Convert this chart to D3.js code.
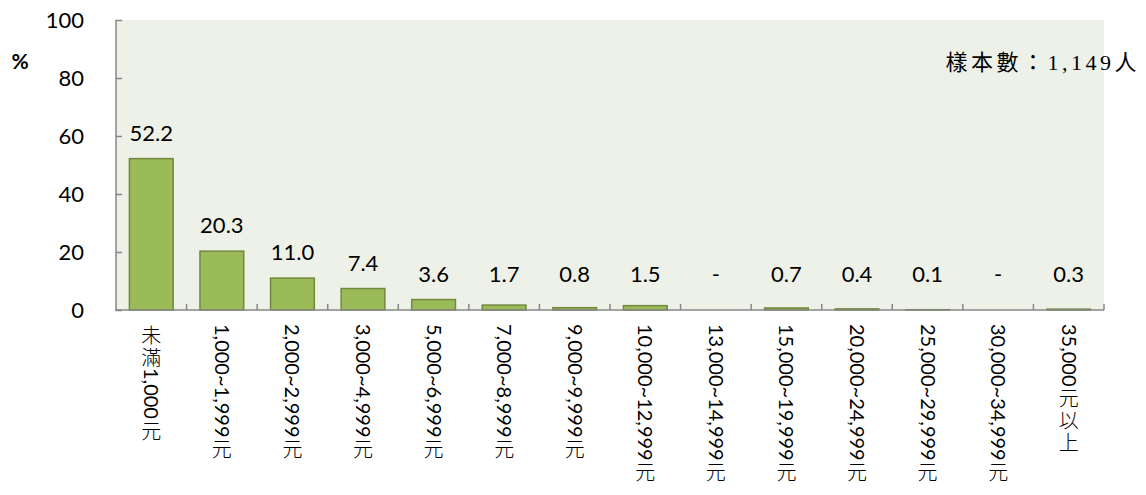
<!DOCTYPE html>
<html>
<head>
<meta charset="utf-8">
<script src="https://cdn.jsdelivr.net/npm/d3@7"></script>
<style>
  body { margin: 0; background: #fff; }
  svg { display: block; }
  text { font-family: Lato, "Noto Sans CJK TC", sans-serif; fill: #000; }
</style>
</head>
<body>
<div class="main"></div>
<script>
const categories = [
  "未滿1,000元", "1,000~1,999元", "2,000~2,999元", "3,000~4,999元",
  "5,000~6,999元", "7,000~8,999元", "9,000~9,999元", "10,000~12,999元",
  "13,000~14,999元", "15,000~19,999元", "20,000~24,999元", "25,000~29,999元",
  "30,000~34,999元", "35,000元以上"
];
const values = [52.2, 20.3, 11.0, 7.4, 3.6, 1.7, 0.8, 1.5, null, 0.7, 0.4, 0.1, null, 0.3];
const yTicks = [0, 20, 40, 60, 80, 100];
const sampleNote = "樣本數：1,149人";

let fullwidth = 1146;
let fullheight = 495;
let plot = { left: 116, right: 1104, top: 20, bottom: 310 };

const svg = d3
  .select(".main")
  .append("svg")
  .attr("width", fullwidth)
  .attr("height", fullheight);

const x = d3.scaleBand().domain(categories).range([plot.left, plot.right]).padding(0);
const y = d3.scaleLinear().domain([0, 100]).range([plot.bottom, plot.top]);
const barW = x.bandwidth() * 0.62;

// plot background
svg.append("rect")
  .attr("x", plot.left)
  .attr("y", plot.top)
  .attr("width", plot.right - plot.left)
  .attr("height", plot.bottom - plot.top)
  .attr("fill", "#eef1e8");

// bars
svg.append("g")
  .selectAll("rect")
  .data(values.map((v, i) => ({ c: categories[i], v: v })).filter((d) => d.v))
  .join("rect")
  .attr("x", (d) => x(d.c) + (x.bandwidth() - barW) / 2)
  .attr("y", (d) => y(d.v))
  .attr("width", barW)
  .attr("height", (d) => y(0) - y(d.v))
  .attr("fill", "#9bbb59")
  .attr("stroke", "#71893f")
  .attr("stroke-width", 1.5);

// value labels
svg.append("g")
  .selectAll("text")
  .data(values.map((v, i) => ({ c: categories[i], v: v })))
  .join("text")
  .attr("x", (d) => x(d.c) + x.bandwidth() / 2)
  .attr("y", (d) => Math.min(y(d.v || 0) - 18, y(9.5)))
  .attr("text-anchor", "middle")
  .style("font-size", "22px")
  .text((d) => (d.v ? d3.format(".1f")(d.v) : "-"));

// y axis
const yAxis = svg.append("g")
  .attr("transform", "translate(" + plot.left + ",0)")
  .call(d3.axisRight(y).tickValues(yTicks).tickSize(6).tickFormat(""));
yAxis.select(".domain").attr("stroke", "#878787").attr("stroke-width", 1.5).attr("d", "M0," + plot.top + "V" + plot.bottom);
yAxis.selectAll(".tick line").attr("stroke", "#878787").attr("stroke-width", 1.5);

svg.append("g")
  .selectAll("text")
  .data(yTicks)
  .join("text")
  .attr("x", 84)
  .attr("y", (d) => y(d))
  .attr("dy", "0.35em")
  .attr("text-anchor", "end")
  .style("font-size", "22px")
  .text((d) => d);

svg.append("text")
  .attr("x", 20)
  .attr("y", 62)
  .attr("dy", "0.35em")
  .attr("text-anchor", "middle")
  .style("font-size", "21px")
  .style("font-weight", "bold")
  .text("%");

// x axis: tick marks between categories
const bounds = categories.map((c) => x(c)).concat([plot.right]);
svg.append("line")
  .attr("x1", plot.left - 1)
  .attr("x2", plot.right)
  .attr("y1", y(0))
  .attr("y2", y(0))
  .attr("stroke", "#878787")
  .attr("stroke-width", 1.5);
svg.append("g")
  .selectAll("line")
  .data(bounds.slice(1))
  .join("line")
  .attr("x1", (d) => d)
  .attr("x2", (d) => d)
  .attr("y1", y(0))
  .attr("y2", y(0) - 6)
  .attr("stroke", "#878787")
  .attr("stroke-width", 1.5);

// vertical category labels: CJK chars upright (stacked), latin runs turned 90deg
const cjkSize = 20;
const cjkStep = 22;
const latSize = 20;
const isCJK = (ch) => /[\u3000-\u9fff\uff00-\uffef]/.test(ch);

categories.forEach((label) => {
  const g = svg.append("g")
    .attr("transform", "translate(" + (x(label) + x.bandwidth() / 2) + ",324)");
  // split into runs of same kind
  let runs = [];
  for (const ch of label) {
    let cjk = isCJK(ch);
    if (runs.length && runs[runs.length - 1].cjk === cjk) {
      runs[runs.length - 1].s += ch;
    } else {
      runs.push({ s: ch, cjk: cjk });
    }
  }
  let pos = 0;
  runs.forEach((r) => {
    if (r.cjk) {
      const t = g.append("text")
        .attr("text-anchor", "middle")
        .style("font-family", "'Noto Sans CJK TC', sans-serif")
        .style("font-size", cjkSize + "px")
        .style("font-weight", 300);
      for (const ch of r.s) {
        t.append("tspan")
          .attr("x", 0)
          .attr("y", pos + cjkStep / 2)
          .attr("dy", "0.38em")
          .text(ch);
        pos += cjkStep;
      }
    } else {
      const t = g.append("text")
        .attr("transform", "rotate(90)")
        .attr("x", pos)
        .attr("y", 0)
        .attr("dy", "0.35em")
        .style("font-size", latSize + "px")
        .text(r.s);
      pos += t.node().getComputedTextLength() + 1;
    }
  });
});

// sample note
svg.append("text")
  .attr("x", 1140)
  .attr("y", 62)
  .attr("dy", "0.35em")
  .attr("text-anchor", "end")
  .style("font-family", "'Liberation Serif', 'Noto Sans CJK TC', serif")
  .style("font-size", "22px")
  .style("letter-spacing", "3.5px")
  .text(sampleNote);
</script>
</body>
</html>
